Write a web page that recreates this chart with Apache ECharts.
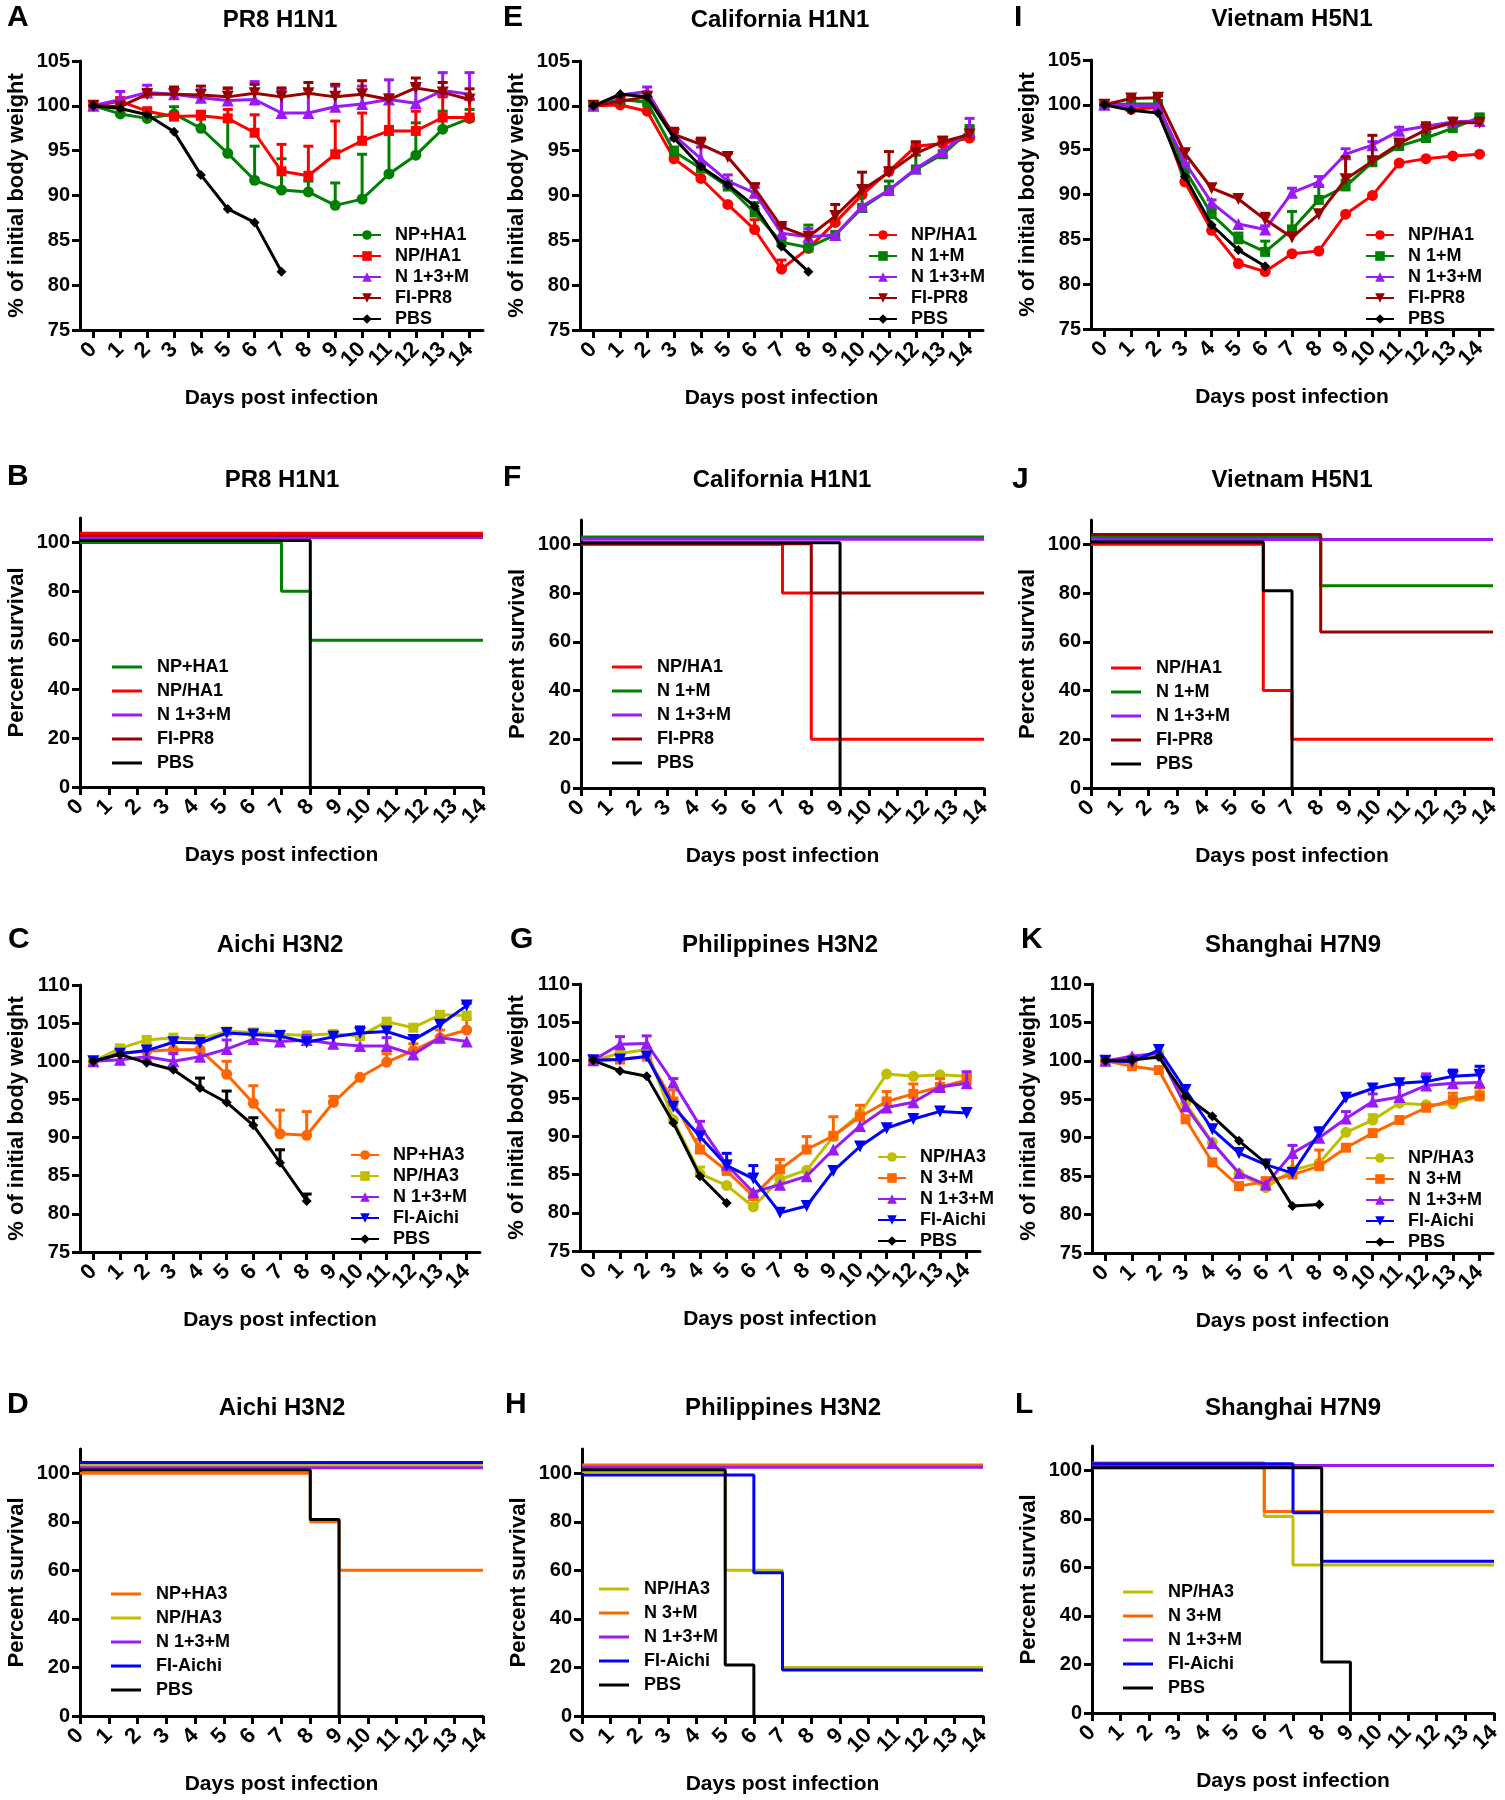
<!DOCTYPE html>
<html><head><meta charset="utf-8">
<script src="https://cdn.jsdelivr.net/npm/echarts@6/dist/echarts.min.js"></script>
<style>html,body{margin:0;padding:0;background:#fff}#c{width:1505px;height:1800px}</style>
</head><body><div id="c"></div><script>
const FONT = "'Liberation Sans', Arial, sans-serif";
const days = ['0','1','2','3','4','5','6','7','8','9','10','11','12','13','14'];
const survTicks = [0, 20, 40, 60, 80, 100];
const _ = null;

// ---------- A: PR8 H1N1 body weight ----------
const A_NPpHA1 = [100,99.1,98.6,99.1,97.5,94.7,91.7,90.6,90.4,88.9,89.6,92.4,94.5,97.4,98.6];
const A_NPpHA1_err = [_,_,_,99.9,99.2,98.4,95.5,94.1,91.6,91.4,94.6,97.7,98.1,99.4,99.6];
const A_NPsHA1 = [100,100.5,99.4,98.8,98.9,98.6,97.0,92.7,92.2,94.6,96.1,97.2,97.2,98.7,98.7];
const A_NPsHA1_err = [_,100.9,_,_,99.4,99.6,99.0,95.7,95.5,98.3,99.2,100.7,99.4,101.0,100.7];
const A_N13M = [100,100.7,101.5,101.3,100.9,100.6,100.7,99.2,99.2,99.9,100.2,100.7,100.3,101.7,101.3];
const A_N13M_err = [_,101.6,102.3,102.0,101.8,101.9,102.7,101.8,101.8,102.2,102.2,102.9,102.3,103.7,103.7];
const A_FI = [100,99.9,101.3,101.3,101.2,101.0,101.4,101.0,101.4,101.0,101.3,100.7,102.0,101.5,100.7];
const A_FI_err = [_,_,101.8,102.1,102.2,102.0,102.4,102.0,102.6,102.4,102.8,101.2,103.1,102.6,101.9];
const A_PBS = [100,99.7,99.0,97.1,92.3,88.5,87.0,81.5,_,_,_,_,_,_,_];

// ---------- E: California H1N1 body weight ----------
const E_NPsHA1 = [100,100.1,99.4,94.1,91.9,89.0,86.2,81.8,84.1,87.0,90.1,92.7,95.5,95.8,96.4];
const E_NPsHA1_err = [_,_,_,_,_,_,87.3,82.8,_,_,_,_,95.9,96.2,_];
const E_N1M = [100,100.7,100.4,94.9,93.0,91.0,88.1,84.8,84.2,85.6,88.6,90.6,92.9,94.6,97.2];
const E_N1M_err = [_,_,_,95.4,93.5,91.6,89.2,86.6,86.7,_,91.1,91.6,94.5,_,97.8];
const E_N13M = [100,101.2,101.6,96.7,94.1,91.6,90.3,85.8,85.4,85.6,88.8,90.6,93.0,94.9,97.2];
const E_N13M_err = [_,_,102.1,97.0,95.4,92.3,90.9,86.4,86.3,_,_,_,_,_,98.6];
const E_FI = [100,100.5,101.0,96.8,95.7,94.3,90.8,86.5,85.4,87.7,90.6,92.6,94.7,96.0,96.8];
const E_FI_err = [_,_,101.5,97.5,96.4,94.7,91.3,86.8,_,89.0,92.6,94.9,96.0,96.5,_];
const E_PBS = [100,101.3,101.0,96.4,93.2,91.2,88.8,84.3,81.5,_,_,_,_,_,_];

// ---------- I: Vietnam H5N1 body weight ----------
const I_NPsHA1 = [100,99.5,99.7,91.4,86.0,82.3,81.4,83.4,83.7,87.8,89.9,93.5,94.0,94.3,94.5];
const I_N1M = [100,100.1,100.1,92.8,87.8,85.0,83.6,86.1,89.4,90.9,93.6,95.4,96.3,97.4,98.6];
const I_N1M_err = [_,_,_,93.5,88.4,85.7,84.8,88.1,91.0,91.6,94.0,95.8,96.8,97.7,98.9];
const I_N13M = [100,99.9,99.9,93.6,89.1,86.7,86.1,90.2,91.4,94.5,95.5,97.1,97.6,98.1,98.2];
const I_N13M_err = [_,_,_,94.0,89.4,_,86.5,90.7,92.0,95.1,95.9,97.5,_,_,_];
const I_FI = [100,100.7,100.8,94.6,90.7,89.5,87.2,85.2,87.8,91.7,93.7,95.7,97.2,98.0,98.0];
const I_FI_err = [_,100.9,101.0,95.0,_,_,87.9,85.6,_,94.2,96.6,96.0,98.0,98.5,_];
const I_PBS = [100,99.4,99.1,92.0,86.6,83.8,82.0,_,_,_,_,_,_,_,_];

// ---------- C: Aichi H3N2 body weight ----------
const C_NPpHA3 = [100,101.1,101.3,101.5,101.5,98.3,94.5,90.5,90.3,94.6,97.9,99.9,101.4,103.1,104.1];
const C_NPpHA3_err = [_,_,_,_,_,100.0,96.8,93.6,93.4,95.4,_,101.0,102.3,104.1,105.5];
const C_NPsHA3 = [100,101.7,102.8,103.1,102.9,103.9,103.8,103.5,103.4,103.6,103.3,105.2,104.4,106.1,106.0];
const C_N13M = [100,100.2,100.6,100.0,100.6,101.6,102.9,102.6,102.8,102.3,102.0,102.0,100.9,103.1,102.6];
const C_N13M_err = [_,_,_,101.0,_,102.8,_,_,103.4,_,_,103.1,_,_,_];
const C_FI = [100,101.0,101.4,102.5,102.4,103.7,103.5,103.3,102.5,103.2,103.7,103.9,102.8,104.8,107.3];
const C_FI_err = [_,_,_,_,_,_,_,_,_,_,104.5,_,_,_,107.6];
const C_PBS = [100,100.9,99.8,98.9,96.5,94.6,91.6,86.7,81.7,_,_,_,_,_,_];
const C_PBS_err = [_,_,_,_,97.8,96.1,92.6,88.4,82.6,_,_,_,_,_,_];

// ---------- G: Philippines H3N2 body weight ----------
const G_NPsHA3 = [100,100.9,101.4,92.2,85.1,83.6,80.8,84.4,85.6,90.0,93.0,98.2,97.9,98.1,97.9];
const G_NPsHA3_err = [_,_,_,_,86.0,_,_,_,_,_,_,_,_,_,_];
const G_N3M = [100,100.1,100.5,94.6,88.3,85.5,82.2,85.7,88.3,90.1,92.6,94.6,95.6,96.5,97.4];
const G_N3M_err = [_,_,_,96.1,89.6,86.5,_,87.0,90.0,92.6,94.1,95.9,96.9,97.6,98.1];
const G_N13M = [100,102.1,102.2,97.1,91.4,86.3,82.7,83.7,84.8,88.3,91.4,93.8,94.5,96.5,97.0];
const G_N13M_err = [_,103.1,103.2,97.6,92.0,86.8,_,_,_,_,_,_,_,_,98.5];
const G_FI = [100,100.1,100.5,93.9,90.0,86.2,84.5,80.0,80.9,85.5,88.7,91.1,92.3,93.3,93.1];
const G_FI_err = [_,_,_,_,_,87.8,86.2,_,_,_,_,_,_,_,_];
const G_PBS = [100,98.6,97.9,91.8,84.8,81.3,_,_,_,_,_,_,_,_,_];

// ---------- K: Shanghai H7N9 body weight ----------
const K_NPsHA3 = [100,100.3,101.0,94.5,89.4,85.3,83.5,85.8,86.7,90.7,92.3,94.5,94.3,94.4,95.4];
const K_NPsHA3_err = [_,_,_,_,_,_,_,_,_,_,93.0,_,_,_,96.0];
const K_N3M = [100,99.3,98.8,92.4,86.8,83.7,84.3,85.2,86.3,88.7,90.6,92.3,93.9,94.9,95.4];
const K_N3M_err = [_,_,_,_,_,_,84.8,87.4,88.4,_,_,_,_,95.8,96.5];
const K_N13M = [100,100.6,101.0,94.1,89.3,85.4,83.9,88.0,90.0,92.5,94.7,95.3,96.8,97.1,97.2];
const K_N13M_err = [_,_,_,_,_,_,_,89.0,91.0,93.4,95.7,96.9,98.3,98.5,98.6];
const K_FI = [100,99.9,101.4,96.2,91.1,88.0,86.5,85.4,90.6,95.2,96.4,97.1,97.3,98.0,98.2];
const K_FI_err = [_,_,_,_,_,_,_,_,91.3,_,_,_,_,98.8,99.3];
const K_PBS = [100,100.1,100.5,95.4,92.8,89.6,86.7,81.1,81.3,_,_,_,_,_,_];

// ---------- Survival (day, percent) step points ----------
const B_NPpHA1 = [[0,100],[7,80],[8,60],[14,60]];
const B_NPsHA1 = [[0,103.8],[14,103.8]];
const B_N13M = [[0,102],[14,102]];
const B_FI = [[0,102.9],[14,102.9]];
const B_PBS = [[0,100.8],[8,0]];

const F_NPsHA1 = [[0,100],[7,80],[8,20],[14,20]];
const F_N1M = [[0,103],[14,103]];
const F_N13M = [[0,102.1],[14,102.1]];
const F_FI = [[0,100.3],[8,80],[14,80]];
const F_PBS = [[0,100.7],[9,0]];

const J_NPsHA1 = [[0,100],[6,40],[7,20],[14,20]];
const J_N1M = [[0,103],[8,83],[14,83]];
const J_N13M = [[0,102],[14,102]];
const J_FI = [[0,104],[8,64],[14,64]];
const J_PBS = [[0,101],[6,81],[7,0]];

const D_NPpHA3 = [[0,100],[8,80],[9,60],[14,60]];
const D_NPsHA3 = [[0,103.3],[14,103.3]];
const D_N13M = [[0,102.3],[14,102.3]];
const D_FI = [[0,104.4],[14,104.4]];
const D_PBS = [[0,101.3],[8,81],[9,0]];

const H_NPsHA3 = [[0,100.7],[5,60],[7,20],[14,20]];
const H_N3M = [[0,103.4],[14,103.4]];
const H_N13M = [[0,102.5],[14,102.5]];
const H_FI = [[0,99.3],[6,59],[7,19],[14,19]];
const H_PBS = [[0,101.4],[5,21],[6,0]];

const L_NPsHA3 = [[0,101],[6,81],[7,61],[14,61]];
const L_N3M = [[0,103],[6,83],[14,83]];
const L_N13M = [[0,102],[14,102]];
const L_FI = [[0,102.7],[7,82.5],[8,62.5],[14,62.5]];
const L_PBS = [[0,101],[8,21],[9,0]];

// ---------- styling ----------
const GREEN = '#008000', RED = '#FF0000', PURPLE = '#9A1AF5', DRED = '#990000', BLACK = '#000000',
      ORANGE = '#FF6600', OLIVE = '#BFBF00', BLUE = '#0000FF';
const SYM = {
  circle: {symbol: 'circle', symbolSize: 11, symbolRotate: 0},
  square: {symbol: 'rect', symbolSize: 10, symbolRotate: 0},
  up: {symbol: 'triangle', symbolSize: 12, symbolRotate: 0},
  down: {symbol: 'triangle', symbolSize: 12, symbolRotate: 180},
  diamond: {symbol: 'diamond', symbolSize: 10, symbolRotate: 0}
};

const panels = [
  {key:'A', kind:'w', title:'PR8 H1N1', grid:{left:80, top:61, width:403, height:269}, yMax:105, tx:280, ty:20, lx:7, ly:18, leg:{left:347, top:221},
   s:[['NP+HA1',A_NPpHA1,A_NPpHA1_err,GREEN,'circle'],['NP/HA1',A_NPsHA1,A_NPsHA1_err,RED,'square'],['N 1+3+M',A_N13M,A_N13M_err,PURPLE,'up'],['FI-PR8',A_FI,A_FI_err,DRED,'down'],['PBS',A_PBS,null,BLACK,'diamond']]},
  {key:'E', kind:'w', title:'California H1N1', grid:{left:580, top:61, width:403, height:269}, yMax:105, tx:780, ty:20, lx:503, ly:18, leg:{left:863, top:221},
   s:[['NP/HA1',E_NPsHA1,E_NPsHA1_err,RED,'circle'],['N 1+M',E_N1M,E_N1M_err,GREEN,'square'],['N 1+3+M',E_N13M,E_N13M_err,PURPLE,'up'],['FI-PR8',E_FI,E_FI_err,DRED,'down'],['PBS',E_PBS,null,BLACK,'diamond']]},
  {key:'I', kind:'w', title:'Vietnam H5N1', grid:{left:1091, top:60, width:402, height:269}, yMax:105, tx:1292, ty:19, lx:1014, ly:18, leg:{left:1360, top:221},
   s:[['NP/HA1',I_NPsHA1,null,RED,'circle'],['N 1+M',I_N1M,I_N1M_err,GREEN,'square'],['N 1+3+M',I_N13M,I_N13M_err,PURPLE,'up'],['FI-PR8',I_FI,I_FI_err,DRED,'down'],['PBS',I_PBS,null,BLACK,'diamond']]},
  {key:'C', kind:'w', title:'Aichi H3N2', grid:{left:80, top:985, width:400, height:267}, yMax:110, tx:280, ty:945, lx:8, ly:940, leg:{left:345, top:1141},
   s:[['NP+HA3',C_NPpHA3,C_NPpHA3_err,ORANGE,'circle'],['NP/HA3',C_NPsHA3,null,OLIVE,'square'],['N 1+3+M',C_N13M,C_N13M_err,PURPLE,'up'],['FI-Aichi',C_FI,C_FI_err,BLUE,'down'],['PBS',C_PBS,C_PBS_err,BLACK,'diamond']]},
  {key:'G', kind:'w', title:'Philippines H3N2', grid:{left:580, top:984, width:400, height:267}, yMax:110, tx:780, ty:945, lx:510, ly:940, leg:{left:872, top:1143},
   s:[['NP/HA3',G_NPsHA3,G_NPsHA3_err,OLIVE,'circle'],['N 3+M',G_N3M,G_N3M_err,ORANGE,'square'],['N 1+3+M',G_N13M,G_N13M_err,PURPLE,'up'],['FI-Aichi',G_FI,G_FI_err,BLUE,'down'],['PBS',G_PBS,null,BLACK,'diamond']]},
  {key:'K', kind:'w', title:'Shanghai H7N9', grid:{left:1092, top:984, width:401, height:269}, yMax:110, tx:1293, ty:945, lx:1021, ly:940, leg:{left:1360, top:1144},
   s:[['NP/HA3',K_NPsHA3,K_NPsHA3_err,OLIVE,'circle'],['N 3+M',K_N3M,K_N3M_err,ORANGE,'square'],['N 1+3+M',K_N13M,K_N13M_err,PURPLE,'up'],['FI-Aichi',K_FI,K_FI_err,BLUE,'down'],['PBS',K_PBS,null,BLACK,'diamond']]},
  {key:'B', kind:'s', title:'PR8 H1N1', grid:{left:80, top:518, width:403, height:269}, tx:282, ty:480, lx:7, ly:477, leg:{left:107, top:653},
   s:[['NP+HA1',B_NPpHA1,GREEN],['NP/HA1',B_NPsHA1,RED],['N 1+3+M',B_N13M,PURPLE],['FI-PR8',B_FI,DRED],['PBS',B_PBS,BLACK]], order:[2,3,0,4,1]},
  {key:'F', kind:'s', title:'California H1N1', grid:{left:581, top:520, width:403, height:268}, tx:782, ty:480, lx:503, ly:478, leg:{left:607, top:653},
   s:[['NP/HA1',F_NPsHA1,RED],['N 1+M',F_N1M,GREEN],['N 1+3+M',F_N13M,PURPLE],['FI-PR8',F_FI,DRED],['PBS',F_PBS,BLACK]]},
  {key:'J', kind:'s', title:'Vietnam H5N1', grid:{left:1091, top:520, width:402, height:268}, tx:1292, ty:480, lx:1012, ly:480, leg:{left:1106, top:654},
   s:[['NP/HA1',J_NPsHA1,RED],['N 1+M',J_N1M,GREEN],['N 1+3+M',J_N13M,PURPLE],['FI-PR8',J_FI,DRED],['PBS',J_PBS,BLACK]]},
  {key:'D', kind:'s', title:'Aichi H3N2', grid:{left:80, top:1449, width:403, height:267}, tx:282, ty:1408, lx:7, ly:1405, leg:{left:106, top:1580},
   s:[['NP+HA3',D_NPpHA3,ORANGE],['NP/HA3',D_NPsHA3,OLIVE],['N 1+3+M',D_N13M,PURPLE],['FI-Aichi',D_FI,BLUE],['PBS',D_PBS,BLACK]]},
  {key:'H', kind:'s', title:'Philippines H3N2', grid:{left:582, top:1449, width:401, height:267}, tx:783, ty:1408, lx:505, ly:1405, leg:{left:594, top:1575},
   s:[['NP/HA3',H_NPsHA3,OLIVE],['N 3+M',H_N3M,ORANGE],['N 1+3+M',H_N13M,PURPLE],['FI-Aichi',H_FI,BLUE],['PBS',H_PBS,BLACK]]},
  {key:'L', kind:'s', title:'Shanghai H7N9', grid:{left:1092, top:1446, width:402, height:267}, tx:1293, ty:1408, lx:1015, ly:1405, leg:{left:1118, top:1578},
   s:[['NP/HA3',L_NPsHA3,OLIVE],['N 3+M',L_N3M,ORANGE],['N 1+3+M',L_N13M,PURPLE],['FI-Aichi',L_FI,BLUE],['PBS',L_PBS,BLACK]]}
];

const axisLineStyle = {show: true, lineStyle: {color: '#000', width: 3}};
const tickStyle = {show: true, length: 8, lineStyle: {color: '#000', width: 3}};
const yLabelFont = {color: '#000', fontFamily: FONT, fontWeight: 'bold', fontSize: 20};
const xLabelFont = {color: '#000', fontFamily: FONT, fontWeight: 'bold', fontSize: 22, hideOverlap: false};

function errRender(params, api) {
  const x = api.value(0), y = api.value(1), t = api.value(2);
  const p0 = api.coord([x, y]);
  const p1 = api.coord([x, t]);
  const st = {stroke: api.visual('color'), lineWidth: 3};
  return {type: 'group', children: [
    {type: 'line', shape: {x1: p0[0], y1: p0[1], x2: p1[0], y2: p1[1]}, style: st},
    {type: 'line', shape: {x1: p1[0] - 5, y1: p1[1], x2: p1[0] + 5, y2: p1[1]}, style: st}
  ]};
}

const grid = [], xAxis = [], yAxis = [], series = [], legend = [], graphic = [];
panels.forEach((p, k) => {
  grid.push(Object.assign({containLabel: false}, p.grid));
  graphic.push({type: 'text', x: p.tx, y: p.ty, style: {text: p.title, font: 'bold 24px ' + FONT, fill: '#000', textAlign: 'center', textVerticalAlign: 'middle', align: 'center', verticalAlign: 'middle'}});
  graphic.push({type: 'text', x: p.lx, y: p.ly, style: {text: p.key, font: 'bold 30px ' + FONT, fill: '#000', textAlign: 'left', textVerticalAlign: 'middle', align: 'left', verticalAlign: 'middle'}});
  const xName = {name: 'Days post infection', nameLocation: 'middle', nameGap: 58,
    nameTextStyle: {color: '#000', fontFamily: FONT, fontWeight: 'bold', fontSize: 21}};
  const yNameTxt = p.kind === 'w' ? '% of initial body weight' : 'Percent survival';
  const yName = {name: yNameTxt, nameLocation: 'middle', nameGap: 52,
    nameTextStyle: {color: '#000', fontFamily: FONT, fontWeight: 'bold', fontSize: 22}};
  if (p.kind === 'w') {
    xAxis.push(Object.assign({gridIndex: k, type: 'category', data: days, boundaryGap: true,
      axisLine: axisLineStyle, axisTick: Object.assign({alignWithLabel: true, interval: 0}, tickStyle),
      axisLabel: Object.assign({interval: 0, rotate: 45, margin: 16}, xLabelFont), splitLine: {show: false}}, xName));
    yAxis.push(Object.assign({gridIndex: k, type: 'value', min: 75, max: p.yMax, interval: 5,
      axisLine: axisLineStyle, axisTick: tickStyle, axisLabel: Object.assign({margin: 10}, yLabelFont), splitLine: {show: false}}, yName));
    const names = [];
    p.s.forEach(([label, data, err, color, sym], j) => {
      const nm = label + '@' + p.key;
      names.push(nm);
      const sy = SYM[sym];
      if (err) {
        const ed = [];
        err.forEach((t, i) => { if (t != null && data[i] != null) ed.push([i, data[i], t]); });
        series.push({type: 'custom', name: 'err@' + p.key + j, xAxisIndex: k, yAxisIndex: k, data: ed,
          encode: {x: 0, y: [1, 2]}, renderItem: errRender, itemStyle: {color: color}, z: 2 + j * 2, silent: true});
      }
      series.push({type: 'line', name: nm, xAxisIndex: k, yAxisIndex: k, data: data,
        symbol: sy.symbol, symbolSize: sy.symbolSize, symbolRotate: sy.symbolRotate, showAllSymbol: true,
        itemStyle: {color: color}, lineStyle: {color: color, width: 3}, z: 3 + j * 2, connectNulls: false});
    });
    legend.push({orient: 'vertical', left: p.leg.left, top: p.leg.top, data: names, selectedMode: false,
      itemWidth: 28, itemHeight: 12, itemGap: 3,
      formatter: n => n.split('@')[0],
      textStyle: {color: '#000', fontFamily: FONT, fontWeight: 'bold', fontSize: 18, padding: [0, 0, 0, 9]}});
  } else {
    xAxis.push(Object.assign({gridIndex: k, type: 'category', data: days, boundaryGap: false,
      axisLine: axisLineStyle, axisTick: Object.assign({interval: 0}, tickStyle),
      axisLabel: Object.assign({interval: 0, rotate: 45, margin: 16}, xLabelFont), splitLine: {show: false}}, xName));
    yAxis.push(Object.assign({gridIndex: k, type: 'value', min: 0, max: 110,
      axisLine: axisLineStyle, axisTick: Object.assign({customValues: survTicks}, tickStyle),
      axisLabel: Object.assign({margin: 10, customValues: survTicks}, yLabelFont), splitLine: {show: false}}, yName));
    const names = [];
    const order = p.order || [0, 1, 2, 3, 4];
    p.s.forEach(([label]) => names.push(label + '@' + p.key));
    order.forEach((j, zi) => {
      const [label, data, color] = p.s[j];
      series.push({type: 'line', name: label + '@' + p.key, xAxisIndex: k, yAxisIndex: k, data: data,
        step: 'end', symbol: 'none', itemStyle: {color: color}, lineStyle: {color: color, width: 3}, z: 3 + zi});
    });
    legend.push({orient: 'vertical', left: p.leg.left, top: p.leg.top, data: names, selectedMode: false,
      icon: 'rect', itemWidth: 30, itemHeight: 3, itemGap: 6,
      formatter: n => n.split('@')[0],
      textStyle: {color: '#000', fontFamily: FONT, fontWeight: 'bold', fontSize: 18, padding: [0, 0, 0, 10]}});
  }
});

const chart = echarts.init(document.getElementById('c'), null, {renderer: 'canvas'});
chart.setOption({
  backgroundColor: '#fff',
  animation: false,
  textStyle: {fontFamily: FONT},
  grid, xAxis, yAxis, series, legend, graphic
});
</script></body></html>
